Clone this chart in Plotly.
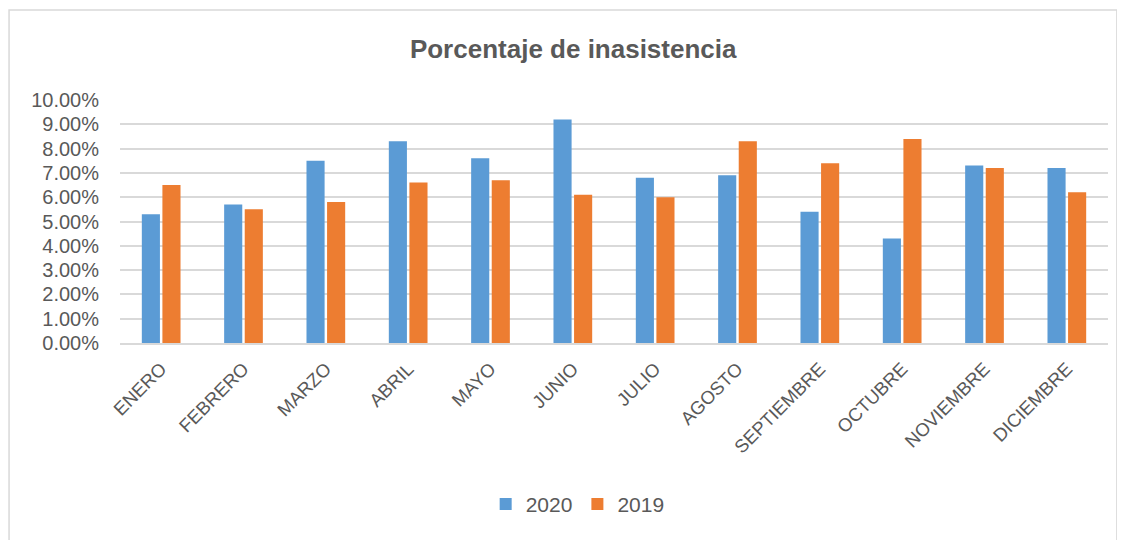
import plotly.graph_objects as go

months = ["ENERO", "FEBRERO", "MARZO", "ABRIL", "MAYO", "JUNIO", "JULIO",
          "AGOSTO", "SEPTIEMBRE", "OCTUBRE", "NOVIEMBRE", "DICIEMBRE"]
pct_2020 = [5.3, 5.7, 7.5, 8.3, 7.6, 9.2, 6.8, 6.9, 5.4, 4.3, 7.3, 7.2]
pct_2019 = [6.5, 5.5, 5.8, 6.6, 6.7, 6.1, 6.0, 8.3, 7.4, 8.4, 7.2, 6.2]

_FONT = "Liberation Sans, Arial, sans-serif"
_GREY = "#595959"

fig = go.Figure()
fig.add_trace(go.Bar(
    x=months, y=[v / 100 for v in pct_2020], name="2020",
    marker={"color": "#5b9bd5", "line": {"width": 0}},
))
fig.add_trace(go.Bar(
    x=months, y=[v / 100 for v in pct_2019], name="2019",
    marker={"color": "#ed7d31", "line": {"width": 0}},
))

# page body has an 8px margin, so the figure is sized to the remaining window
fig.update_layout(
    width=1117, height=532,
    paper_bgcolor="white", plot_bgcolor="white",
    margin={"l": 112, "r": 17, "t": 92, "b": 197, "autoexpand": False},
    barmode="group", bargap=0.5, bargroupgap=0.12,
    font={"family": _FONT, "color": _GREY, "size": 15},
    title={"text": "<b>Porcentaje de inasistencia</b>", "x": 0.506, "xanchor": "center",
           "xref": "container", "yref": "container", "y": 0.923, "yanchor": "middle",
           "font": {"size": 26, "color": _GREY, "family": _FONT}},
    legend={"orientation": "h", "x": 0.51, "xanchor": "center", "xref": "container",
            "y": -0.58, "yanchor": "top", "font": {"size": 21, "color": _GREY},
            "itemwidth": 30, "traceorder": "normal"},
    xaxis={"tickangle": -45, "showgrid": False, "showline": True, "automargin": False,
           "linecolor": "#d9d9d9", "linewidth": 1.5, "ticks": "",
           "ticklabelstandoff": 6,
           "tickfont": {"size": 18.5, "color": _GREY}},
    yaxis={"range": [0, 0.1], "dtick": 0.01, "tickformat": ".2%", "automargin": False,
           "showgrid": True, "gridcolor": "#d9d9d9", "gridwidth": 1.5,
           "zeroline": False, "ticks": "", "ticklabelstandoff": 20,
           "tickfont": {"size": 20, "color": _GREY}},
    shapes=[{"type": "rect", "xref": "paper", "yref": "paper",
             "x0": -0.1123, "x1": 1.009, "y0": -1.0, "y1": 1.37,
             "line": {"color": "#d9d9d9", "width": 1.5}, "layer": "below"}],
)

fig.write_html("out.html")
